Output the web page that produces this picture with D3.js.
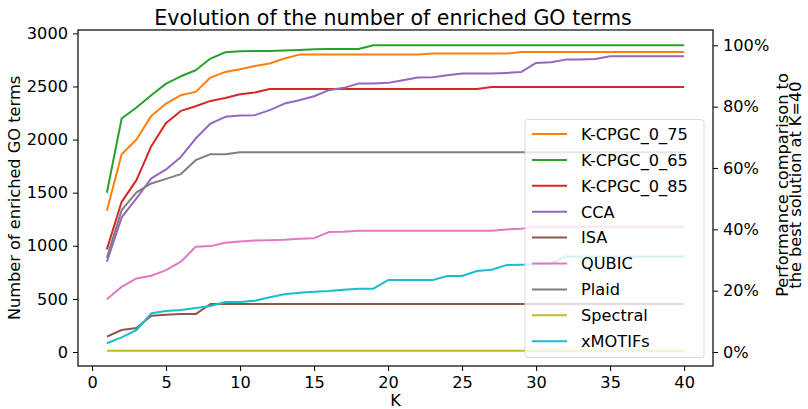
<!DOCTYPE html>
<html>
<head>
<meta charset="utf-8">
<script src="https://cdn.jsdelivr.net/npm/d3@7"></script>
<style>
  body { margin: 0; background: #fff; }
  text { font-family: "DejaVu Sans", sans-serif; fill: #000; }
</style>
</head>
<body>
<div id="graph"></div>
<script>
// K values 1..40
var ks = d3.range(1, 41);

var names = ["K-CPGC_0_75", "K-CPGC_0_65", "K-CPGC_0_85", "CCA", "ISA", "QUBIC", "Plaid", "Spectral", "xMOTIFs"];
var colors = ["#ff7f0e", "#2ca02c", "#d62728", "#9467bd", "#8c564b", "#e377c2", "#7f7f7f", "#bcbd22", "#17becf"];

var kcpgc075 = [1329, 1862, 2001, 2223, 2339, 2418, 2449, 2584, 2637, 2662,
                2693, 2716, 2763, 2800, 2802, 2802, 2802, 2802, 2802, 2802,
                2802, 2802, 2810, 2810, 2810, 2810, 2810, 2810, 2825, 2825,
                2825, 2825, 2825, 2825, 2825, 2825, 2825, 2825, 2825, 2825];
var kcpgc065 = [1499, 2198, 2302, 2418, 2527, 2596, 2653, 2763, 2822, 2832,
                2833, 2835, 2838, 2844, 2850, 2852, 2853, 2853, 2888, 2888,
                2888, 2888, 2888, 2888, 2888, 2888, 2888, 2888, 2888, 2888,
                2888, 2888, 2888, 2888, 2888, 2888, 2888, 2888, 2888, 2888];
var kcpgc085 = [966, 1414, 1618, 1938, 2157, 2270, 2314, 2364, 2392, 2427,
                2443, 2477, 2477, 2477, 2477, 2477, 2477, 2477, 2477, 2477,
                2477, 2477, 2477, 2477, 2477, 2477, 2496, 2496, 2496, 2496,
                2496, 2496, 2496, 2496, 2496, 2496, 2496, 2496, 2496, 2496];
var cca = [850, 1267, 1446, 1634, 1719, 1837, 2010, 2151, 2214, 2227,
           2230, 2277, 2339, 2371, 2408, 2465, 2487, 2527, 2527, 2534,
           2559, 2584, 2587, 2606, 2622, 2622, 2622, 2628, 2637, 2722,
           2728, 2753, 2753, 2759, 2785, 2785, 2785, 2785, 2785, 2785];
var isa = [144, 207, 226, 342, 351, 357, 357, 452, 452, 452,
           452, 452, 452, 452, 452, 452, 452, 452, 452, 452,
           452, 452, 452, 452, 452, 452, 452, 452, 452, 452,
           452, 452, 452, 452, 452, 452, 452, 452, 452, 452];
var qubic = [496, 614, 693, 718, 771, 850, 991, 997, 1028, 1041,
             1050, 1053, 1056, 1066, 1072, 1129, 1132, 1141, 1141, 1141,
             1141, 1141, 1141, 1141, 1141, 1141, 1141, 1154, 1160, 1179,
             1179, 1179, 1179, 1179, 1179, 1179, 1179, 1179, 1179, 1179];
var plaid = [887, 1336, 1502, 1587, 1630, 1675, 1806, 1863, 1863, 1881,
             1881, 1881, 1881, 1881, 1881, 1881, 1881, 1881, 1881, 1881,
             1881, 1881, 1881, 1881, 1881, 1881, 1881, 1881, 1881, 1881,
             1881, 1881, 1881, 1881, 1881, 1881, 1881, 1881, 1881, 1881];
var spectral = [12, 12, 12, 12, 12, 12, 12, 12, 12, 12,
                12, 12, 12, 12, 12, 12, 12, 12, 12, 12,
                12, 12, 12, 12, 12, 12, 12, 12, 12, 12,
                12, 12, 12, 12, 12, 12, 12, 12, 12, 12];
var xmotifs = [82, 138, 207, 364, 386, 395, 414, 433, 470, 470,
               483, 515, 543, 558, 567, 574, 586, 596, 596, 677,
               677, 677, 677, 715, 715, 762, 774, 818, 821, 826,
               833, 900, 900, 900, 900, 900, 900, 900, 900, 900];

var series = [kcpgc075, kcpgc065, kcpgc085, cca, isa, qubic, plaid, spectral, xmotifs];

var xTicks = [0, 5, 10, 15, 20, 25, 30, 35, 40];
var yTicks = [0, 500, 1000, 1500, 2000, 2500, 3000];
var pctTicks = [0, 0.2, 0.4, 0.6, 0.8, 1.0];

function buildGraph() {
    var margin = { top: 30, right: 95, bottom: 43, left: 78 },
        width = 808 - margin.left - margin.right,
        height = 409 - margin.top - margin.bottom;

    var svg = d3.select("#graph")
        .append("svg")
        .attr("width", 808)
        .attr("height", 409);
    var g = svg.append("g")
        .attr("transform", "translate(" + margin.left + "," + margin.top + ")");

    // matplotlib style 5% padding around the data
    var all = [].concat.apply([], series);
    var lo = d3.min(all), hi = d3.max(all);
    var pad = (hi - lo) * 0.05;
    var xpad = (40 - 1) * 0.05;

    var x = d3.scaleLinear().domain([1 - xpad, 40 + xpad]).range([0, width]);
    var y = d3.scaleLinear().domain([lo - pad, hi + pad]).range([height, 0]);

    // best solution at K=40
    var best = d3.max(series, function(s) { return s[s.length - 1]; });
    var yp = d3.scaleLinear().domain([(lo - pad) / best, (hi + pad) / best]).range([height, 0]);

    var line = d3.line()
        .x(function(d, i) { return x(ks[i]); })
        .y(function(d) { return y(d); });

    g.selectAll(".series")
        .data(series)
        .enter()
        .append("path")
        .attr("fill", "none")
        .attr("stroke", function(d, i) { return colors[i]; })
        .attr("stroke-width", 2)
        .attr("stroke-linejoin", "round")
        .attr("d", line);

    var fs = "16.2px";

    var xa = g.append("g")
        .attr("transform", "translate(0," + height + ")")
        .call(d3.axisBottom(x).tickValues(xTicks).tickSize(5).tickPadding(5).tickSizeOuter(0)
            .tickFormat(d3.format("d")));
    var ya = g.append("g")
        .call(d3.axisLeft(y).tickValues(yTicks).tickSize(5).tickPadding(5).tickSizeOuter(0)
            .tickFormat(d3.format("d")));
    var ra = g.append("g")
        .attr("transform", "translate(" + width + ",0)")
        .call(d3.axisRight(yp).tickValues(pctTicks).tickSize(5).tickPadding(5).tickSizeOuter(0)
            .tickFormat(d3.format(".0%")));

    [xa, ya, ra].forEach(function(a) {
        a.select(".domain").remove();
        a.selectAll("text").style("font-size", fs).style("font-family", "DejaVu Sans");
        a.selectAll("line").attr("stroke", "#000").attr("stroke-width", 1);
    });

    // frame
    g.append("rect")
        .attr("width", width)
        .attr("height", height)
        .attr("fill", "none")
        .attr("stroke", "#000")
        .attr("stroke-width", 1.2);

    // legend
    var lx = 525 - margin.left, ly = 119.5 - margin.top;
    var leg = g.append("g").attr("transform", "translate(" + lx + "," + ly + ")");
    leg.append("rect")
        .attr("width", 179)
        .attr("height", 238)
        .attr("rx", 3)
        .attr("fill", "#fff")
        .attr("fill-opacity", 0.8)
        .attr("stroke", "#d9d9d9")
        .attr("stroke-width", 1);
    var items = leg.selectAll(".item")
        .data(names)
        .enter()
        .append("g")
        .attr("transform", function(d, i) { return "translate(0," + (14.5 + i * 25.9) + ")"; });
    items.append("line")
        .attr("x1", 7).attr("x2", 42)
        .attr("stroke", function(d, i) { return colors[i]; })
        .attr("stroke-width", 2);
    items.append("text")
        .attr("x", 56)
        .attr("dy", "0.36em")
        .style("font-size", fs)
        .text(function(d) { return d; });

    // titles
    svg.append("text")
        .attr("x", 393)
        .attr("y", 25)
        .attr("text-anchor", "middle")
        .style("font-size", "20.6px")
        .text("Evolution of the number of enriched GO terms");

    svg.append("text")
        .attr("x", margin.left + width / 2)
        .attr("y", 406)
        .attr("text-anchor", "middle")
        .style("font-size", fs)
        .text("K");

    svg.append("text")
        .attr("transform", "translate(20," + (margin.top + height / 2) + ") rotate(-90)")
        .attr("text-anchor", "middle")
        .style("font-size", fs)
        .text("Number of enriched GO terms");

    var rl = svg.append("text")
        .attr("transform", "translate(788," + 185 + ") rotate(-90)")
        .attr("text-anchor", "middle")
        .style("font-size", fs);
    rl.append("tspan").attr("x", 0).attr("y", 0).text("Performance comparison to");
    rl.append("tspan").attr("x", 0).attr("y", 13.4).text("the best solution at K=40");
}

buildGraph();
</script>
</body>
</html>
